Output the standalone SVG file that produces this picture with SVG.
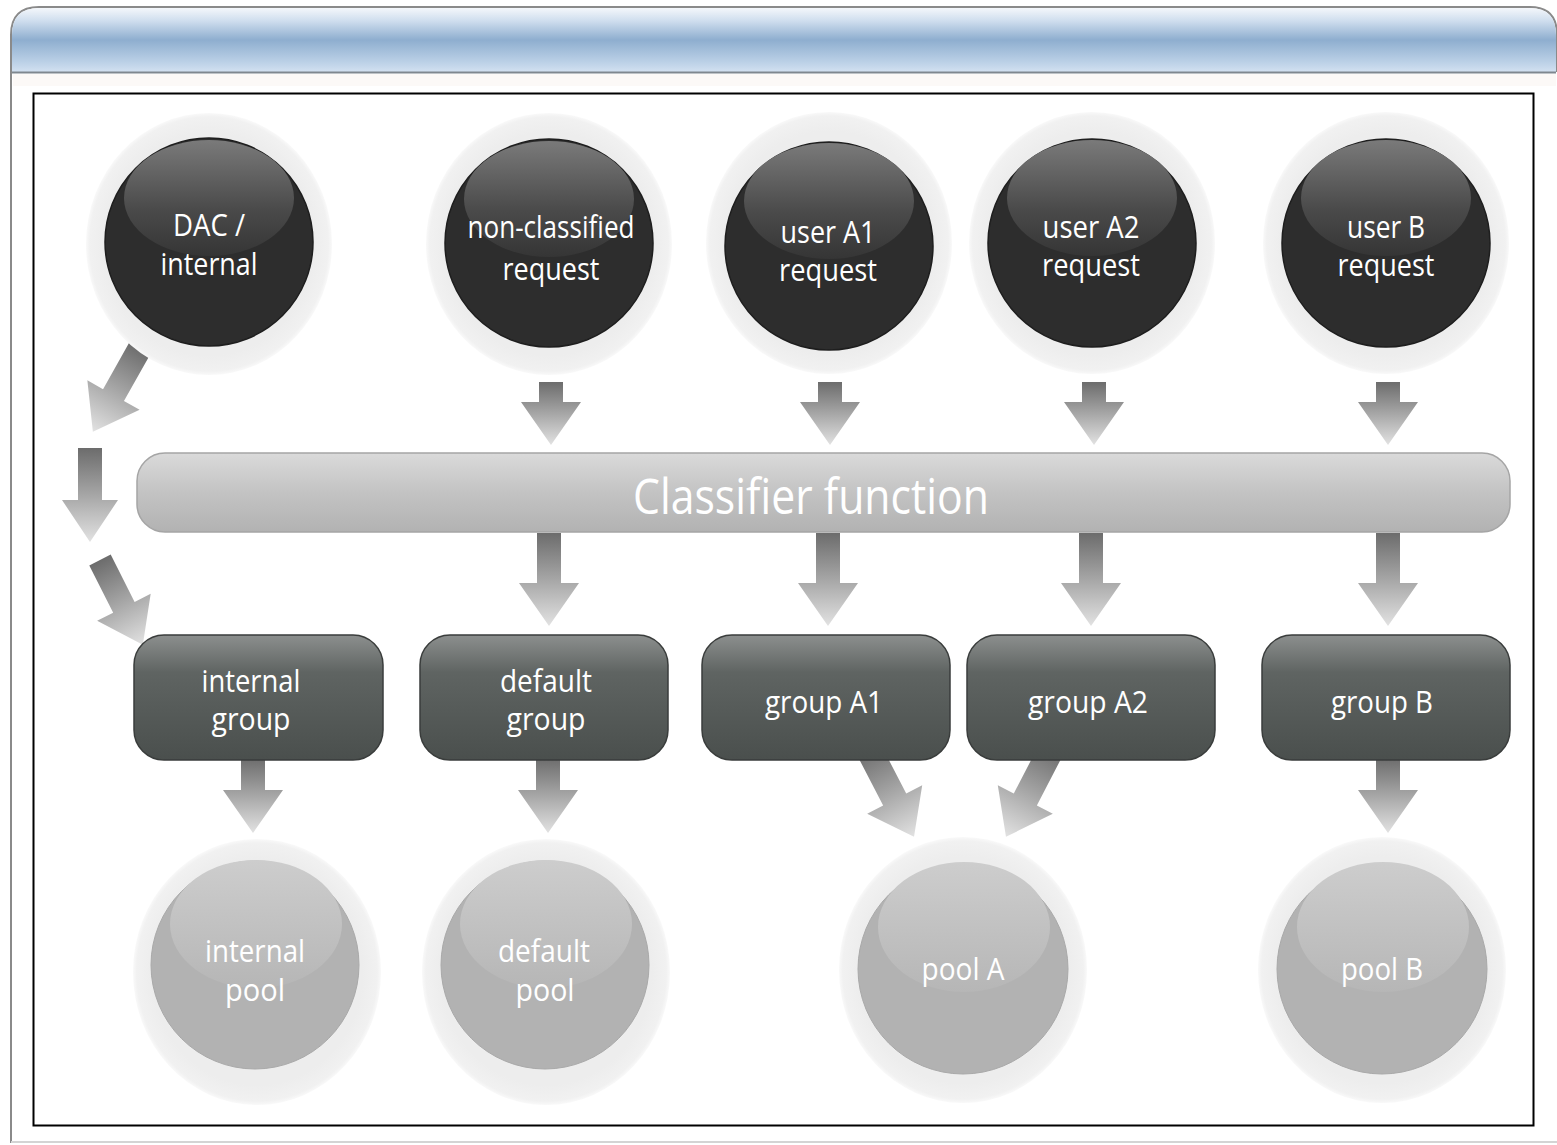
<svg xmlns="http://www.w3.org/2000/svg" width="1557" height="1145" viewBox="0 0 1557 1145">
<defs>
<style>
.lbl{font-family:"Open Sans","Liberation Sans",sans-serif;font-size:31px;fill:#ffffff;text-anchor:middle}
.plbl{font-family:"Open Sans","Liberation Sans",sans-serif;font-size:31px;fill:#ffffff;text-anchor:middle}
.arr{fill:url(#gArr)}
.halo{fill:url(#gHalo)}
.dark{fill:#2d2d2d;stroke:#1e1e1e;stroke-width:1.5}
.dhl{fill:url(#gDarkHl)}
.pool{fill:#b2b2b2;stroke:#a9a9a9;stroke-width:1}
.phl{fill:url(#gPoolHl)}
.grp{fill:url(#gGrp);stroke:#3a3d3c;stroke-width:1.5}
</style>
<linearGradient id="gHead" x1="0" y1="0" x2="0" y2="1">
<stop offset="0" stop-color="#f4f7fb"/>
<stop offset="0.2" stop-color="#cfdeee"/>
<stop offset="0.5" stop-color="#8eaecf"/>
<stop offset="0.85" stop-color="#bcd1e7"/>
<stop offset="1" stop-color="#d3e1f1"/>
</linearGradient>
<linearGradient id="gArr" x1="0" y1="0" x2="0" y2="1">
<stop offset="0" stop-color="#6c6c6c"/>
<stop offset="0.5" stop-color="#a6a6a6"/>
<stop offset="1" stop-color="#e2e2e2"/>
</linearGradient>
<radialGradient id="gHalo" cx="0.5" cy="0.5" r="0.5">
<stop offset="0.85" stop-color="#ededed"/>
<stop offset="0.97" stop-color="#f1f1f1"/>
<stop offset="1" stop-color="#f9f9f9"/>
</radialGradient>
<linearGradient id="gDarkHl" x1="0" y1="0" x2="0" y2="1">
<stop offset="0" stop-color="#7a7a7a"/>
<stop offset="0.6" stop-color="#4a4a4a"/>
<stop offset="1" stop-color="#353535"/>
</linearGradient>
<linearGradient id="gPoolHl" x1="0" y1="0" x2="0" y2="1">
<stop offset="0" stop-color="#cdcdcd"/>
<stop offset="1" stop-color="#b6b6b6"/>
</linearGradient>
<linearGradient id="gGrp" x1="0" y1="0" x2="0" y2="1">
<stop offset="0" stop-color="#8c8f8e"/>
<stop offset="0.3" stop-color="#5f6462"/>
<stop offset="1" stop-color="#4a4f4d"/>
</linearGradient>
<linearGradient id="gBar" x1="0" y1="0" x2="0" y2="1">
<stop offset="0" stop-color="#dadada"/>
<stop offset="0.5" stop-color="#c3c3c3"/>
<stop offset="1" stop-color="#b2b2b2"/>
</linearGradient>
</defs>

<!-- window frame -->
<rect x="0" y="0" width="1557" height="1145" fill="#ffffff"/>
<path d="M11,1143 V35 Q11,7 39,7 H1530 Q1557,7 1557,35 V72" fill="none" stroke="#8a8a8a" stroke-width="2"/>
<path d="M12,72 V35 Q12,8 39,8 H1530 Q1556,8 1556,35 V72 Z" fill="url(#gHead)"/>
<line x1="12" y1="72.5" x2="1556" y2="72.5" stroke="#7f878f" stroke-width="2"/>
<rect x="13" y="74" width="1543" height="12" fill="#fcf9f7"/>
<line x1="11" y1="1142" x2="1557" y2="1142" stroke="#d4d4d4" stroke-width="2"/>
<rect x="33.5" y="93.5" width="1500" height="1032" fill="#ffffff" stroke="#000000" stroke-width="2"/>

<!-- connectors -->
<g id="connectors">
<path class="arr" d="M539,382 H563 V402 H581 L551,445 L521,402 H539 Z"/>
<path class="arr" d="M818,382 H842 V402 H860 L830,445 L800,402 H818 Z"/>
<path class="arr" d="M1082,382 H1106 V402 H1124 L1094,445 L1064,402 H1082 Z"/>
<path class="arr" d="M1376,382 H1400 V402 H1418 L1388,445 L1358,402 H1376 Z"/>

<path class="arr" d="M537,533 H561 V583 H579 L549,626 L519,583 H537 Z"/>
<path class="arr" d="M816,533 H840 V583 H858 L828,626 L798,583 H816 Z"/>
<path class="arr" d="M1079,533 H1103 V583 H1121 L1091,626 L1061,583 H1079 Z"/>
<path class="arr" d="M1376,533 H1400 V583 H1418 L1388,626 L1358,583 H1376 Z"/>

<path class="arr" d="M241,758 H265 V790 H283 L253,833 L223,790 H241 Z"/>
<path class="arr" d="M536,758 H560 V790 H578 L548,833 L518,790 H536 Z"/>
<path class="arr" d="M1376,758 H1400 V790 H1418 L1388,833 L1358,790 H1376 Z"/>

<path class="arr" transform="translate(140,348) rotate(29.4)" d="M-12,0 H12 V54 H30 L0,96 L-30,54 H-12 Z"/>
<path class="arr" d="M78,448 H102 V500 H118 L90,542 L62,500 H78 Z"/>
<path class="arr" transform="translate(100,560) rotate(-26.8)" d="M-12,0 H12 V53 H30 L0,95 L-30,53 H-12 Z"/>
<path class="arr" transform="translate(868,748) rotate(-27.4)" d="M-13,0 H13 V58 H31 L0,100 L-31,58 H-13 Z"/>
<path class="arr" transform="translate(1052,748) rotate(27.4)" d="M-13,0 H13 V58 H31 L0,100 L-31,58 H-13 Z"/>
</g>

<!-- request nodes -->
<g id="node-dac">
<ellipse class="halo" cx="209" cy="244" rx="123" ry="131"/>
<circle class="dark" cx="209" cy="242" r="104"/>
<ellipse class="dhl" cx="209" cy="198" rx="85" ry="58"/>
<text class="lbl" x="209" y="236" textLength="72" lengthAdjust="spacingAndGlyphs">DAC /</text>
<text class="lbl" x="209" y="275" textLength="97" lengthAdjust="spacingAndGlyphs">internal</text>
</g>
<g id="node-nonclassified">
<ellipse class="halo" cx="549" cy="244" rx="123" ry="131"/>
<circle class="dark" cx="549" cy="243" r="104"/>
<ellipse class="dhl" cx="549" cy="199" rx="85" ry="58"/>
<text class="lbl" x="551" y="238" textLength="167" lengthAdjust="spacingAndGlyphs">non-classified</text>
<text class="lbl" x="551" y="280" textLength="97" lengthAdjust="spacingAndGlyphs">request</text>
</g>
<g id="node-userA1">
<ellipse class="halo" cx="829" cy="243" rx="123" ry="131"/>
<circle class="dark" cx="829" cy="246" r="104"/>
<ellipse class="dhl" cx="829" cy="201" rx="85" ry="58"/>
<text class="lbl" x="828" y="243" textLength="95" lengthAdjust="spacingAndGlyphs">user A1</text>
<text class="lbl" x="828" y="281" textLength="98" lengthAdjust="spacingAndGlyphs">request</text>
</g>
<g id="node-userA2">
<ellipse class="halo" cx="1092" cy="243" rx="123" ry="131"/>
<circle class="dark" cx="1092" cy="243" r="104"/>
<ellipse class="dhl" cx="1092" cy="198" rx="85" ry="58"/>
<text class="lbl" x="1091" y="238" textLength="97" lengthAdjust="spacingAndGlyphs">user A2</text>
<text class="lbl" x="1091" y="276" textLength="98" lengthAdjust="spacingAndGlyphs">request</text>
</g>
<g id="node-userB">
<ellipse class="halo" cx="1386" cy="243" rx="123" ry="131"/>
<circle class="dark" cx="1386" cy="243" r="104"/>
<ellipse class="dhl" cx="1386" cy="198" rx="85" ry="58"/>
<text class="lbl" x="1386" y="238" textLength="78" lengthAdjust="spacingAndGlyphs">user B</text>
<text class="lbl" x="1386" y="276" textLength="97" lengthAdjust="spacingAndGlyphs">request</text>
</g>

<!-- classifier -->
<g id="node-classifier">
<rect x="137" y="453" width="1373" height="79" rx="28" fill="url(#gBar)" stroke="#a5a5a5" stroke-width="1.5"/>
<text x="811" y="514" font-family="'Open Sans','Liberation Sans',sans-serif" font-size="50" fill="#ffffff" text-anchor="middle" textLength="356" lengthAdjust="spacingAndGlyphs">Classifier function</text>
</g>

<!-- groups -->
<g id="node-internal-group">
<rect class="grp" x="134" y="635" width="249" height="125" rx="30"/>
<text class="lbl" x="251" y="692" textLength="99" lengthAdjust="spacingAndGlyphs">internal</text>
<text class="lbl" x="251" y="730" textLength="79" lengthAdjust="spacingAndGlyphs">group</text>
</g>
<g id="node-default-group">
<rect class="grp" x="420" y="635" width="248" height="125" rx="30"/>
<text class="lbl" x="546" y="692" textLength="92" lengthAdjust="spacingAndGlyphs">default</text>
<text class="lbl" x="546" y="730" textLength="79" lengthAdjust="spacingAndGlyphs">group</text>
</g>
<g id="node-groupA1">
<rect class="grp" x="702" y="635" width="248" height="125" rx="30"/>
<text class="lbl" x="824" y="713" textLength="118" lengthAdjust="spacingAndGlyphs">group A1</text>
</g>
<g id="node-groupA2">
<rect class="grp" x="967" y="635" width="248" height="125" rx="30"/>
<text class="lbl" x="1088" y="713" textLength="120" lengthAdjust="spacingAndGlyphs">group A2</text>
</g>
<g id="node-groupB">
<rect class="grp" x="1262" y="635" width="248" height="125" rx="30"/>
<text class="lbl" x="1382" y="713" textLength="102" lengthAdjust="spacingAndGlyphs">group B</text>
</g>

<!-- pools -->
<g id="node-internal-pool">
<ellipse class="halo" cx="257" cy="972" rx="124" ry="133"/>
<circle class="pool" cx="255" cy="965" r="104"/>
<ellipse class="phl" cx="256" cy="924" rx="86" ry="64"/>
<text class="plbl" x="255" y="962" textLength="100" lengthAdjust="spacingAndGlyphs">internal</text>
<text class="plbl" x="255" y="1001" textLength="60" lengthAdjust="spacingAndGlyphs">pool</text>
</g>
<g id="node-default-pool">
<ellipse class="halo" cx="546" cy="972" rx="124" ry="133"/>
<circle class="pool" cx="545" cy="965" r="104"/>
<ellipse class="phl" cx="546" cy="924" rx="86" ry="64"/>
<text class="plbl" x="544" y="962" textLength="92" lengthAdjust="spacingAndGlyphs">default</text>
<text class="plbl" x="545" y="1001" textLength="59" lengthAdjust="spacingAndGlyphs">pool</text>
</g>
<g id="node-poolA">
<ellipse class="halo" cx="963" cy="970" rx="124" ry="133"/>
<circle class="pool" cx="963" cy="969" r="105"/>
<ellipse class="phl" cx="964" cy="927" rx="86" ry="65"/>
<text class="plbl" x="963" y="980" textLength="83" lengthAdjust="spacingAndGlyphs">pool A</text>
</g>
<g id="node-poolB">
<ellipse class="halo" cx="1382" cy="970" rx="124" ry="133"/>
<circle class="pool" cx="1382" cy="969" r="105"/>
<ellipse class="phl" cx="1383" cy="927" rx="86" ry="65"/>
<text class="plbl" x="1382" y="980" textLength="82" lengthAdjust="spacingAndGlyphs">pool B</text>
</g>
</svg>
